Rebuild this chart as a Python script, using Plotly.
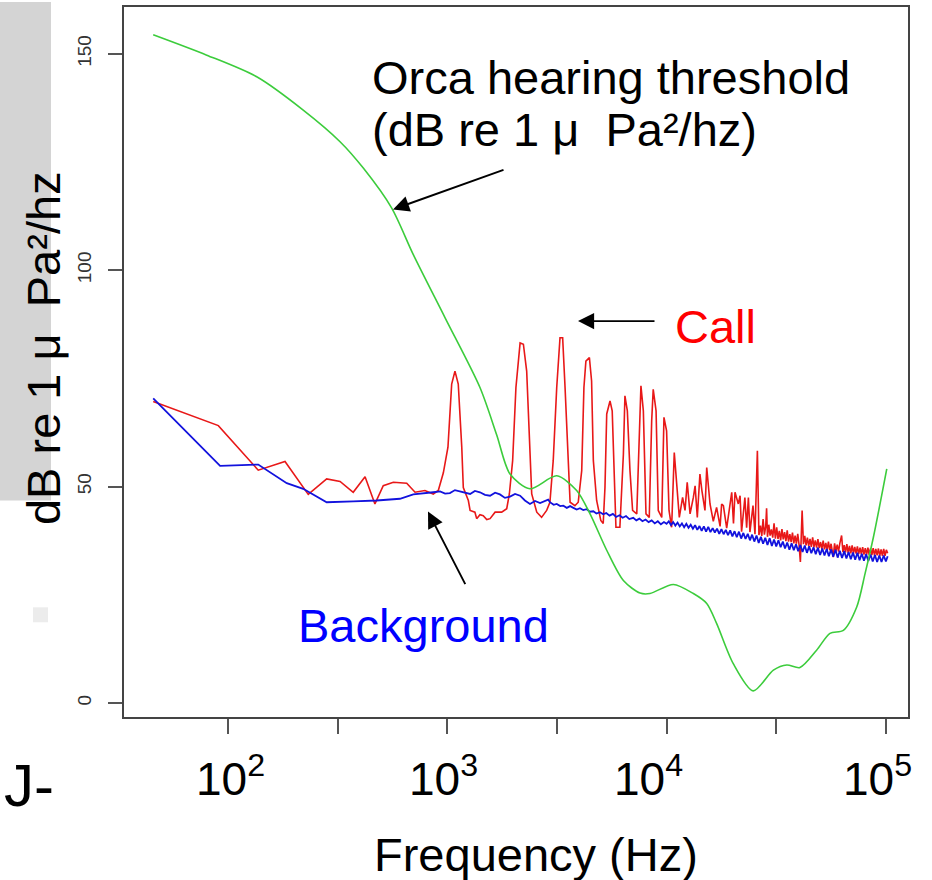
import plotly.graph_objects as go

# ---------------- data ----------------
# Orca hearing threshold (green)
thr_log10_hz = [1.659, 1.903, 2.131, 2.343, 2.511, 2.617, 2.746, 2.845, 2.990, 3.149,
                3.225, 3.286, 3.377, 3.499, 3.590, 3.651, 3.727, 3.803, 3.879, 3.924,
                4.031, 4.122, 4.183, 4.228, 4.304, 4.395, 4.487, 4.548, 4.608, 4.684,
                4.745, 4.806, 4.867, 4.905, 4.943, 5.004]
thr_db = [154.4, 149.7, 144.7, 137.0, 129.7, 123.6, 114.4, 103.6, 89.0, 72.9,
          62.0, 52.9, 49.5, 52.5, 49.1, 43.7, 35.3, 28.3, 25.4, 25.3,
          27.4, 25.3, 23.0, 18.4, 9.1, 2.8, 7.6, 8.8, 8.2, 12.2,
          16.1, 16.8, 22.2, 29.9, 38.3, 54.1]

# Orca call spectrum (red)
call_log10_hz = [
    1.659, 1.956, 2.138, 2.260, 2.366, 2.450, 2.511, 2.571, 2.625, 2.670,
    2.708, 2.754, 2.815, 2.853, 2.898, 2.936, 2.959, 2.982, 3.003, 3.020,
    3.035, 3.050, 3.066, 3.073, 3.096, 3.104, 3.126, 3.134, 3.149, 3.164,
    3.180, 3.195, 3.218, 3.248, 3.271, 3.283, 3.298, 3.313, 3.332, 3.347,
    3.362, 3.377, 3.385, 3.408, 3.430, 3.453, 3.468, 3.483, 3.499, 3.514,
    3.526, 3.537, 3.552, 3.560, 3.582, 3.597, 3.613, 3.623, 3.632, 3.648,
    3.658, 3.666, 3.681, 3.700, 3.711, 3.719, 3.727, 3.742, 3.752, 3.760,
    3.769, 3.787, 3.803, 3.810, 3.821, 3.833, 3.845, 3.864, 3.874, 3.883,
    3.894, 3.906, 3.921, 3.932, 3.939, 3.952, 3.962, 3.978, 3.988, 4.000,
    4.011, 4.023, 4.035, 4.049, 4.058, 4.073, 4.084, 4.094, 4.107, 4.122,
    4.130, 4.140, 4.152, 4.161, 4.175, 4.183, 4.198, 4.213, 4.228, 4.244,
    4.251, 4.259, 4.274, 4.297, 4.305, 4.312, 4.327, 4.335, 4.342, 4.357,
    4.365, 4.373, 4.380, 4.394, 4.403, 4.414, 4.421,
    4.428, 4.434, 4.440, 4.446, 4.452, 4.456, 4.460, 4.466, 4.472, 4.478,
    4.484, 4.490, 4.496, 4.502, 4.508, 4.514, 4.520, 4.526, 4.532, 4.538,
    4.544, 4.550, 4.556, 4.562, 4.568, 4.574, 4.580, 4.586, 4.592, 4.598,
    4.604, 4.610, 4.618, 4.624, 4.630, 4.636, 4.642, 4.648, 4.654, 4.660,
    4.666, 4.672, 4.678, 4.684, 4.690, 4.696, 4.702, 4.708, 4.714, 4.720,
    4.726, 4.732, 4.738, 4.744, 4.750, 4.756, 4.760, 4.766, 4.772, 4.778,
    4.784, 4.790, 4.798, 4.804, 4.810, 4.816, 4.822, 4.828, 4.834, 4.840,
    4.846, 4.852, 4.858, 4.864, 4.870, 4.876, 4.882, 4.888, 4.894, 4.900,
    4.906, 4.912, 4.918, 4.924, 4.930, 4.936, 4.942, 4.948, 4.954, 4.960,
    4.966, 4.972, 4.978, 4.984, 4.990, 4.996, 5.002, 5.008]
call_db = [
    69.7, 64.1, 53.8, 55.8, 48.2, 51.8, 51.2, 48.7, 52.3, 46.0,
    50.2, 51.0, 50.8, 48.7, 49.1, 48.3, 49.1, 53.2, 59.1, 73.7,
    76.7, 73.7, 59.1, 49.8, 46.8, 44.5, 44.1, 42.6, 43.5, 43.3,
    42.4, 42.6, 44.1, 44.1, 44.9, 48.3, 56.0, 72.9, 83.2, 82.9,
    76.7, 57.5, 48.3, 44.1, 42.9, 44.5, 46.4, 56.0, 72.9, 84.4,
    84.4, 72.9, 53.7, 46.4, 45.6, 46.4, 53.7, 72.9, 79.0, 79.8,
    74.4, 56.0, 46.8, 42.2, 41.5, 49.8, 66.8, 69.8, 67.5, 53.7,
    40.6, 40.6, 57.5, 71.0, 67.5, 53.7, 44.5, 43.7, 61.4, 73.3,
    67.5, 43.7, 42.9, 65.2, 72.5, 67.5, 44.5, 42.9, 66.0, 62.9,
    44.5, 40.6, 57.9, 49.1, 42.9, 47.5, 44.5, 51.0, 43.7, 47.5,
    50.2, 42.9, 52.9, 49.1, 44.5, 54.4, 46.0, 42.0, 45.2, 40.8,
    46.0, 45.6, 40.4, 48.7, 41.5, 48.7, 46.0, 47.9, 39.6, 47.5,
    40.5, 47.5, 39.5, 45.6, 39.0, 58.3, 38.8,
    41.0, 38.6, 42.5, 38.9, 40.8, 45.0, 38.4, 41.2, 38.7, 40.1,
    38.2, 41.5, 38.0, 40.6, 37.9, 39.8, 37.6, 40.2, 37.8, 39.5,
    37.4, 39.9, 37.3, 39.0, 37.2, 39.4, 36.9, 38.7, 36.8, 39.1,
    36.6, 32.6, 44.5, 36.7, 38.6, 36.4, 38.2, 36.3, 37.9, 36.1,
    38.3, 36.0, 37.6, 35.9, 37.9, 35.8, 37.2, 35.6, 37.5, 35.5,
    37.0, 35.4, 37.3, 35.3, 36.8, 35.2, 33.7, 36.9, 35.1, 36.6,
    35.0, 36.9, 38.7, 34.9, 36.5, 34.8, 36.7, 34.7, 36.3, 34.6,
    36.4, 34.6, 36.1, 34.5, 36.2, 34.4, 35.9, 34.4, 36.0, 34.3,
    35.8, 34.3, 35.9, 34.2, 35.7, 34.2, 35.8, 34.1, 35.6, 34.1,
    35.7, 34.0, 35.5, 34.0, 35.6, 34.0, 35.4, 34.6]

# Background noise spectrum (blue)
bg_log10_hz = [
    1.659, 1.964, 2.138, 2.268, 2.343, 2.450, 2.571, 2.678, 2.784, 2.845,
    2.936, 2.967, 2.990, 3.012, 3.035, 3.058, 3.080, 3.104, 3.126, 3.149,
    3.172, 3.195, 3.218, 3.240, 3.263, 3.286, 3.309, 3.332, 3.354, 3.377,
    3.400, 3.423, 3.460, 3.468, 3.485, 3.499, 3.515, 3.529, 3.545, 3.560,
    3.575, 3.590, 3.605, 3.620, 3.635, 3.650, 3.666, 3.680, 3.696, 3.711,
    3.725, 3.740, 3.755, 3.770, 3.785, 3.800, 3.815, 3.830, 3.848, 3.862,
    3.876, 3.890, 3.904, 3.918, 3.932, 3.946, 3.960, 3.974, 3.988, 4.000,
    4.010, 4.020, 4.030, 4.040, 4.050, 4.060, 4.070, 4.080, 4.090, 4.100,
    4.110, 4.120, 4.130, 4.140, 4.150, 4.160, 4.170, 4.180, 4.190, 4.200,
    4.210, 4.220, 4.230, 4.240, 4.250, 4.260, 4.270, 4.280, 4.290, 4.300,
    4.310, 4.320, 4.330, 4.340, 4.350, 4.360, 4.370, 4.380, 4.390, 4.400,
    4.410, 4.420, 4.430, 4.440, 4.450, 4.460, 4.470, 4.480, 4.490, 4.500,
    4.510, 4.520, 4.530, 4.540, 4.550, 4.560, 4.570, 4.580, 4.590, 4.600,
    4.610, 4.620, 4.630, 4.640, 4.650, 4.660, 4.670, 4.680, 4.690, 4.700,
    4.710, 4.720, 4.730, 4.740, 4.750, 4.760, 4.770, 4.780, 4.790, 4.800,
    4.810, 4.820, 4.830, 4.840, 4.850, 4.860, 4.870, 4.880, 4.890, 4.900,
    4.910, 4.920, 4.930, 4.940, 4.950, 4.960, 4.970, 4.980, 4.990, 5.000,
    5.008]
bg_db = [
    70.4, 54.8, 55.1, 50.8, 49.5, 46.4, 46.6, 46.8, 47.2, 48.2,
    48.7, 48.9, 48.4, 48.5, 49.2, 48.9, 48.6, 48.3, 49.0, 48.7,
    48.1, 47.9, 48.6, 48.2, 47.4, 47.7, 48.3, 47.9, 46.8, 46.0,
    46.7, 46.2, 47.0, 46.4, 45.8, 46.0, 45.5, 45.6, 45.1, 45.5,
    45.1, 44.7, 45.0, 44.6, 44.8, 44.2, 44.3, 43.8, 44.1, 43.6,
    43.9, 43.3, 43.7, 43.0, 43.4, 42.8, 43.2, 42.5, 42.8, 42.2,
    42.6, 42.0, 42.4, 41.8, 42.2, 41.5, 42.0, 41.3, 41.8, 41.4,
    42.0, 41.1, 41.8, 41.0, 41.7, 40.8, 41.5, 40.6, 41.4, 40.5,
    41.2, 40.3, 41.1, 40.0, 40.9, 39.8, 40.8, 39.6, 40.7, 39.5,
    40.4, 39.4, 40.3, 39.1, 40.2, 39.0, 40.0, 38.8, 39.9, 38.5,
    39.7, 38.3, 39.6, 38.0, 39.3, 37.9, 39.1, 37.6, 38.9, 37.3,
    38.7, 37.0, 38.4, 36.8, 38.2, 36.5, 38.1, 36.3, 37.8, 36.2,
    37.6, 36.0, 37.3, 35.7, 37.1, 35.4, 36.9, 35.3, 36.7, 35.1,
    36.5, 34.9, 36.4, 34.7, 36.2, 34.6, 36.0, 34.4, 35.9, 34.2,
    35.7, 34.1, 35.6, 33.9, 35.5, 33.8, 35.4, 33.6, 35.2, 33.5,
    35.1, 33.4, 34.9, 33.2, 34.8, 33.1, 34.7, 33.0, 34.5, 32.9,
    34.4, 32.8, 34.3, 32.7, 34.2, 32.6, 34.1, 32.6, 34.1, 32.7,
    33.9]

y_tick_vals = [0, 50, 100, 150]
x_tick_vals = [1e2, 10 ** 2.5, 1e3, 10 ** 3.5, 1e4, 10 ** 4.5, 1e5]
x_tick_texts = ["10<sup>2</sup>", "10<sup>3</sup>", "10<sup>4</sup>", "10<sup>5</sup>"]

thr_hz = [10 ** v for v in thr_log10_hz]
call_hz = [10 ** v for v in call_log10_hz]
bg_hz = [10 ** v for v in bg_log10_hz]

# ---------------- figure ----------------
W, H = 932, 880
ML, MR, MT, MB = 124, 24, 5, 163
PW, PH = W - ML - MR, H - MT - MB
FONT = "Liberation Sans, Arial, Helvetica, sans-serif"


def px(x):
    return (x - ML) / PW


def py(y):
    return (H - MB - y) / PH


fig = go.Figure()
fig.add_trace(go.Scatter(x=call_hz, y=call_db, mode="lines",
                         line=dict(color="#e81818", width=1.6), name="Call"))
fig.add_trace(go.Scatter(x=bg_hz, y=bg_db, mode="lines",
                         line=dict(color="#1212dd", width=1.8), name="Background"))
fig.add_trace(go.Scatter(x=thr_hz, y=thr_db, mode="lines",
                         line=dict(color="#3ccc3c", width=1.6, shape="spline", smoothing=0.8),
                         name="Orca hearing threshold"))


def text_ann(text, x, y, size, color="black", xanchor="left", yanchor="middle", angle=0):
    return dict(text=text, xref="paper", yref="paper", x=px(x), y=py(y),
                showarrow=False, xanchor=xanchor, yanchor=yanchor, textangle=angle,
                font=dict(family=FONT, size=size, color=color))


def arrow_ann(hx, hy, tx, ty):
    return dict(text="", xref="paper", yref="paper", x=px(hx), y=py(hy),
                ax=tx - hx, ay=ty - hy, axref="pixel", ayref="pixel",
                showarrow=True, arrowhead=2, arrowsize=1.7, arrowwidth=1.9,
                arrowcolor="black")


annotations = [
    text_ann("Orca hearing threshold", 370, 76, 47),
    text_ann("(dB re 1 \u03bc\u00a0 Pa\u00b2/hz)", 370, 128, 47),
    text_ann("Call", 715, 325, 47, color="#ff0000", xanchor="center"),
    text_ann("Background", 423, 625, 47, color="#0000ff", xanchor="center"),
    text_ann("dB re 1 \u03bc\u00a0 Pa\u00b2/hz", 43, 347, 47, xanchor="center", angle=-90),
    text_ann("Frequency (Hz)", 536, 855, 47, xanchor="center"),
    text_ann("J-", 2, 786, 60),
    arrow_ann(393, 208, 505, 168),
    arrow_ann(578, 320, 656, 320),
    arrow_ann(428, 511, 466, 585),
]
for t, xl in zip(x_tick_texts, [194, 407, 612, 841]):
    annotations.append(text_ann(t, xl, 776, 46))

shapes = [
    dict(type="rect", xref="paper", yref="paper", x0=px(0), x1=px(51), y0=py(500), y1=py(0),
         fillcolor="#d4d4d4", line=dict(width=0), layer="below"),
    dict(type="rect", xref="paper", yref="paper", x0=px(33), x1=px(48), y0=py(622), y1=py(607),
         fillcolor="#ececec", line=dict(width=0), layer="below"),
]

axis_common = dict(showgrid=False, zeroline=False, showline=True, linecolor="#444",
                   linewidth=1.5, mirror=True, ticks="outside", tickwidth=1.5,
                   tickcolor="#555")

fig.update_layout(
    width=W, height=H,
    margin=dict(l=ML, r=MR, t=MT, b=MB, pad=0),
    paper_bgcolor="white", plot_bgcolor="white",
    showlegend=False,
    xaxis=dict(type="log", range=[1.5258, 5.1008], tickvals=x_tick_vals,
               showticklabels=False, ticklen=15, **axis_common),
    yaxis=dict(range=[-3.23, 160.83], tickvals=y_tick_vals, ticklen=14,
               tickangle=-90, ticklabelstandoff=10,
               tickfont=dict(family=FONT, size=19, color="#333"), **axis_common),
    annotations=annotations,
    shapes=shapes,
)

fig.write_html("out.html")
